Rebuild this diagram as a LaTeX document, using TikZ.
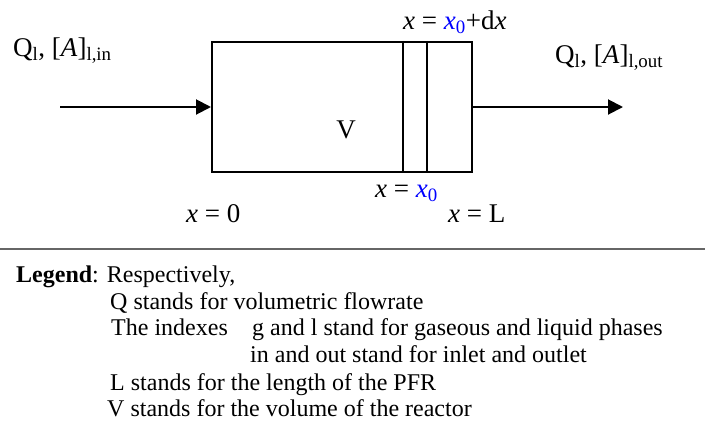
\documentclass[tikz,border=0pt]{standalone}
\usepackage{fontspec}
\setmainfont{Liberation Serif}
\usetikzlibrary{arrows.meta}
\newcommand{\xv}{\textit{x}}
\newcommand{\xo}{\textcolor{blue}{\textit{x}\textsubscript{0}}}
\begin{document}
\begin{tikzpicture}[x=1pt,y=-1pt,
  lbl/.style={inner sep=0pt, font=\fontsize{27}{32}\selectfont, anchor=base west},
  leg/.style={inner sep=0pt, font=\fontsize{24}{27}\selectfont, anchor=base west},
  flow/.style={line width=2pt, -{Triangle[length=15pt,width=15pt]}},
  reactor/.style={draw, line width=2pt, minimum width=260pt, minimum height=130.5pt, inner sep=0pt},
  sep/.style={draw=black!60, line width=1.5pt}]
\useasboundingbox (0,0) rectangle (705,421);
% reactor
\node[reactor] (box) at (342,107) {};
\draw[line width=2pt] ([xshift=192pt]box.north west) -- ([xshift=192pt]box.south west);
\draw[line width=2pt] ([xshift=216pt]box.north west) -- ([xshift=216pt]box.south west);
% flows
\coordinate (in) at (60,107);
\coordinate (out) at (623,107);
\draw[flow] (in) -- (box.west);
\draw[flow] (box.east) -- (out);
% labels
\node[lbl] (qin) at (13,56) {Q\textsubscript{l}, [\textit{A}]\textsubscript{l,in}};
\node[lbl] (qout) at (555,63) {Q\textsubscript{l}, [\textit{A}]\textsubscript{l,out}};
\node[lbl] (xdx) at (403,29) {\xv{} = \xo+d\xv};
\node[lbl, anchor=base] (vol) at (346,138) {V};
\node[lbl] (x0) at (375,197) {\xv{} = \xo};
\node[lbl] (xl) at (448,222) {\xv{} = L};
\node[lbl] (xz) at (186,222) {\xv{} = 0};
% separator
\coordinate (sl) at (0,249);
\coordinate (sr) at (705,249);
\draw[sep] (sl) -- (sr);
% legend
\node[leg] (l1) at (16,282) {\textbf{Legend}: Respectively,};
\node[leg] (l2) at (110,309) {Q stands for volumetric flowrate};
\node[leg] (l3) at (111,335) {The indexes};
\node[leg] (l3b) at (252,335) {g and l stand for gaseous and liquid phases};
\node[leg] (l4) at (250,362) {in and out stand for inlet and outlet};
\node[leg] (l5) at (110,390) {L stands for the length of the PFR};
\node[leg] (l6) at (107,416) {V stands for the volume of the reactor};
\end{tikzpicture}
\end{document}
